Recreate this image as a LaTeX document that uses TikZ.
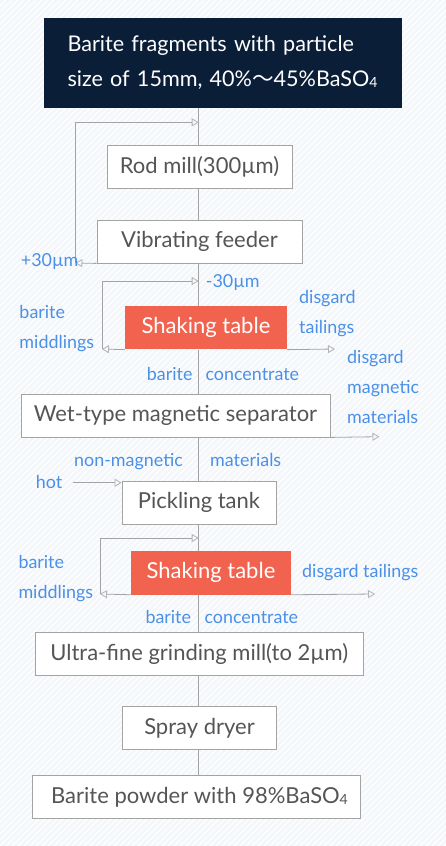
\documentclass[tikz,border=0pt]{standalone}
\usepackage{fontspec}
\setmainfont{Lato}
\newfontfamily\cjk{Noto Sans CJK SC}
\usetikzlibrary{arrows.meta}
\definecolor{navy}{HTML}{0B1E38}
\definecolor{coral}{HTML}{F2634F}
\definecolor{ink}{HTML}{555555}
\definecolor{sky}{HTML}{4A90E8}
\definecolor{wire}{HTML}{A3A3A3}
\definecolor{tipgray}{HTML}{B3B3B3}
\definecolor{paper}{HTML}{F3F6FA}
\newcommand{\subfour}{\raisebox{-1pt}{\fontsize{14}{14}\selectfont 4}}

\begin{document}
\begin{tikzpicture}[x=1pt, y=-1pt,
    boxfont/.style={font=\fontsize{22}{26}\selectfont},
    topbox/.style={fill=navy, text=white, align=left, text width=311pt, inner xsep=23.5pt,
      font=\fontsize{21.6}{35}\selectfont},
    procbox/.style={draw=wire, line width=0.8pt, fill=white, text=ink, boxfont,
      minimum height=43pt, inner sep=0pt},
    tablebox/.style={fill=coral, text=white, boxfont, minimum height=43.5pt, inner sep=0pt},
    note/.style={text=sky, font=\fontsize{17.9}{21}\selectfont, inner sep=0pt, anchor=base west},
    wireline/.style={draw=wire, line width=0.8pt},
    flowarrow/.style={wireline, -{Triangle[open, length=7pt, width=8pt, color=tipgray]}}]
    \fill[paper] (0,0) rectangle (446,846);
    \begin{scope}
      \clip (0,0) rectangle (446,846);
      \foreach \k in {-846,-840,...,446}{
        \draw[white, line width=1.2pt] (\k,846) -- ++(846,-846);
      }
    \end{scope}
    \useasboundingbox (0,0) rectangle (446,846);

    \node[topbox, minimum width=358pt, minimum height=89.7pt] (feed) at (223,62.9)
      {Barite fragments with particle\\size of 15mm, 40\%{\cjk ～}45\%BaSO\subfour};
    \node[procbox, minimum width=185pt] (rod) at (199.5,166.5) {Rod mill(300µm)};
    \node[procbox, minimum width=205pt] (feeder) at (199.5,241.5) {Vibrating feeder};
    \node[tablebox, minimum width=162pt] (shake1) at (206,327.7) {Shaking table};
    \node[procbox, minimum width=309pt] (sep) at (175.5,415.5) {Wet-type magnetic separator};
    \node[procbox, minimum width=154pt] (pickle) at (199,502.6) {Pickling tank};
    \node[tablebox, minimum width=160pt] (shake2) at (211,572.8) {Shaking table};
    \node[procbox, minimum width=328pt] (ultra) at (199.3,653.8) {Ultra-fine grinding mill(to 2µm)};
    \node[procbox, minimum width=154pt] (spray) at (199.5,727.8) {Spray dryer};
    \node[procbox, minimum width=328pt] (powder) at (196.5,796.8) {\hspace{6pt}Barite powder with 98\%BaSO\subfour};

    \coordinate (spine) at (198.7,0);
    \foreach \a/\b in {feed/rod, rod/feeder, feeder/shake1, shake1/sep, sep/pickle,
      pickle/shake2, shake2/ultra, ultra/spray, spray/powder}{
      \draw[wireline] (\a.south -| spine) -- (\b.north -| spine);
    }

    \coordinate (back1) at (75.3,263);
    \coordinate (in1) at (198.7,122.3);
    \coordinate (back2) at (102,349);
    \coordinate (in2) at (198.7,281);
    \coordinate (out2) at (335,349);
    \coordinate (outsep) at (379.5,436.7);
    \coordinate (hot) at (72.7,482.7);
    \coordinate (back3) at (100,594);
    \coordinate (in3) at (198.7,538);
    \coordinate (out3) at (375,594);
    \draw[flowarrow] (feeder.south west) -- (back1);
    \draw[flowarrow] (back1) |- (in1);
    \draw[flowarrow] (shake1.south west) -- (back2);
    \draw[flowarrow] (back2) |- (in2);
    \draw[flowarrow] (shake1.south east) -- (out2);
    \draw[flowarrow] (sep.south east) -- (outsep);
    \draw[flowarrow] (hot) -- (hot -| pickle.west);
    \draw[flowarrow] (shake2.south west) -- (back3);
    \draw[flowarrow] (back3) |- (in3);
    \draw[flowarrow] (shake2.south east) -- (out3);

    \node[note] (plus30) at (20.7,266.5) {+30µm};
    \node[note] (minus30) at (205.7,287) {-30µm};
    \node[note] (mid1a) at (19.3,318) {barite};
    \node[note] (mid1b) at (19.3,348) {middlings};
    \node[note] (tail1a) at (299,303) {disgard};
    \node[note] (tail1b) at (299,333) {tailings};
    \node[note] (conc1a) at (146.7,380) {barite};
    \node[note] (conc1b) at (205.3,380) {concentrate};
    \node[note] (mag1) at (347,363) {disgard};
    \node[note] (mag2) at (347,393) {magnetic};
    \node[note] (mag3) at (347,423) {materials};
    \node[note] (nonmaga) at (74,466) {non-magnetic};
    \node[note] (nonmagb) at (210,466) {materials};
    \node[note] (hotlbl) at (35.7,488) {hot};
    \node[note] (mid2a) at (18.3,568) {barite};
    \node[note] (mid2b) at (18.3,598) {middlings};
    \node[note] (tail2) at (302,577) {disgard tailings};
    \node[note] (conc2a) at (145.3,623) {barite};
    \node[note] (conc2b) at (204.3,623) {concentrate};
  \end{tikzpicture}
\end{document}
